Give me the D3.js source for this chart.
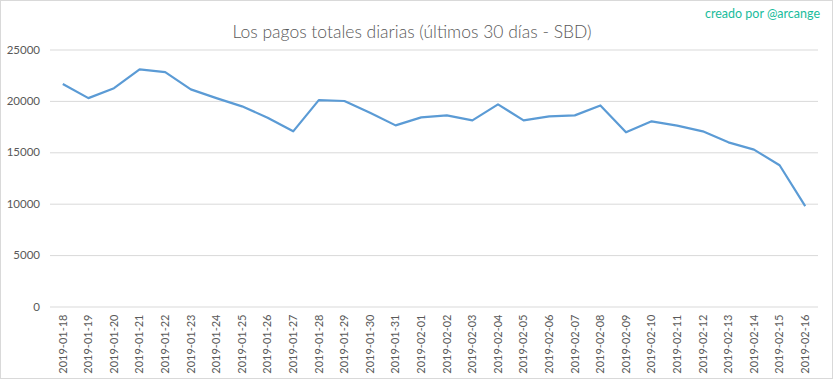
<!DOCTYPE html>
<html><head><meta charset="utf-8">
<script src="https://cdn.jsdelivr.net/npm/d3@7"></script>
<style>body{margin:0;background:#fff}svg{display:block}</style>
</head><body><svg id="c" width="833" height="379"></svg>
<script>
const dates = ["2019-01-18","2019-01-19","2019-01-20","2019-01-21","2019-01-22","2019-01-23","2019-01-24","2019-01-25","2019-01-26","2019-01-27","2019-01-28","2019-01-29","2019-01-30","2019-01-31","2019-02-01","2019-02-02","2019-02-03","2019-02-04","2019-02-05","2019-02-06","2019-02-07","2019-02-08","2019-02-09","2019-02-10","2019-02-11","2019-02-12","2019-02-13","2019-02-14","2019-02-15","2019-02-16"];
const payouts = [21650,20270,21240,23060,22800,21120,20270,19470,18370,17040,20080,19990,18850,17620,18400,18590,18110,19660,18110,18500,18590,19560,16940,18010,17590,17040,15970,15260,13740,9760];
const yTicks = [0,5000,10000,15000,20000,25000];
const title = "Los pagos totales diarias (últimos 30 días - SBD)";
const credit = "creado por @arcange";

const svg = d3.select("#c");
const font = "Lato, 'Open Sans', sans-serif";
svg.append("rect").attr("x",0.5).attr("y",0.5).attr("width",832).attr("height",378)
  .attr("fill","#fff").attr("stroke","#d9d9d9");

const x = d3.scaleBand().domain(dates).range([50,818]);
const y = d3.scaleLinear().domain([0,25000]).range([306.5,49.5]);

const ya = svg.append("g").attr("transform","translate(50,0)")
  .call(d3.axisLeft(y).tickValues(yTicks).tickFormat(d3.format("d")).tickSize(-768).tickPadding(10));
ya.select(".domain").remove();
ya.selectAll(".tick line").attr("stroke","#d9d9d9");
ya.selectAll(".tick text").attr("fill","#595959").style("font-family",font).style("font-size","11.5px");

const xa = svg.append("g").attr("transform","translate(0,306.5)")
  .call(d3.axisBottom(x).tickSize(0).tickPadding(8));
xa.select(".domain").remove();
xa.selectAll(".tick text").attr("fill","#595959").style("font-family",font).style("font-size","11px")
  .attr("transform","rotate(-90)").attr("text-anchor","end").attr("dy","0.35em").attr("x",-8).attr("y",0);

svg.append("path").datum(payouts)
  .attr("fill","none").attr("stroke","#5b9bd5").attr("stroke-width",2.2).attr("stroke-linejoin","round")
  .attr("d", d3.line().x((d,i)=>x(dates[i])+x.bandwidth()/2).y(d=>y(d)));

svg.append("text").attr("x",412).attr("y",38).attr("text-anchor","middle")
  .attr("fill","#595959").style("font-family",font).style("font-size","17.5px").style("font-weight",300).text(title);
svg.append("text").attr("x",820).attr("y",18).attr("text-anchor","end")
  .attr("fill","#1abc9c").style("font-family",font).style("font-size","12.5px").text(credit);
</script></body></html>
